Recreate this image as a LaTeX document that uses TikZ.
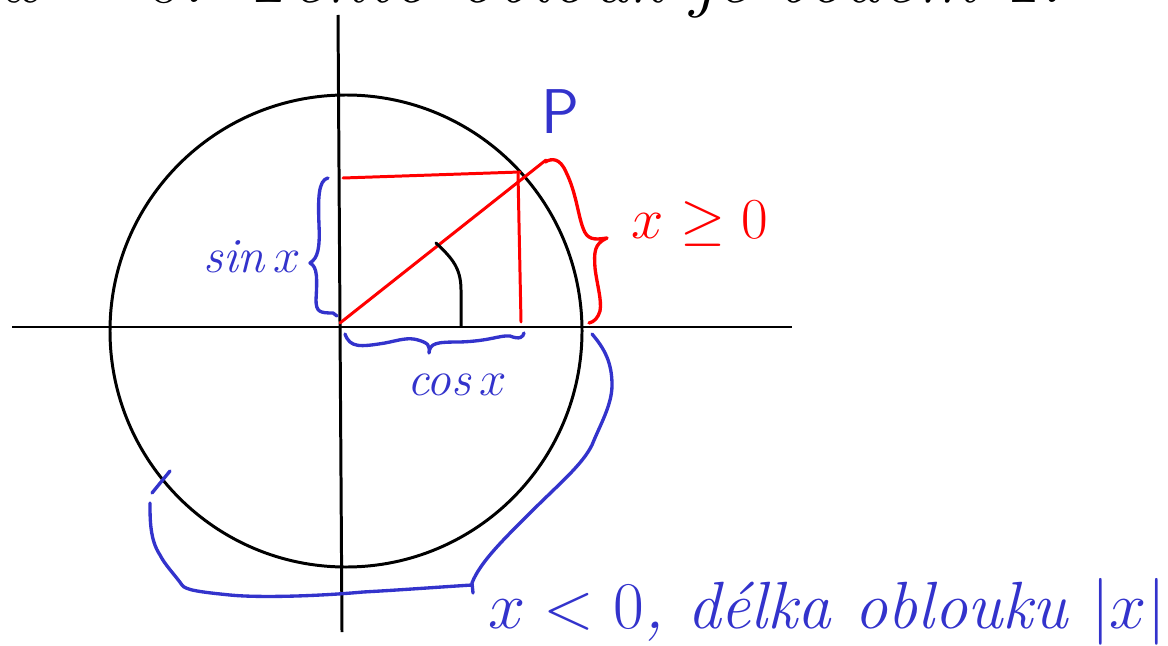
\RequirePackage{fix-cm}
\documentclass[tikz,border=0pt]{standalone}
\usepackage{amsmath}
\definecolor{penblue}{RGB}{51,51,204}
\definecolor{penred}{RGB}{255,0,0}
\tikzset{
  axis/.style={line width=1.7pt, black},
  redline/.style={line width=1.7pt, penred, line cap=round},
  bluebrace/.style={line width=1.9pt, penblue, line cap=round, line join=round},
  redbrace/.style={line width=1.9pt, penred, line cap=round, line join=round},
  bluetext/.style={text=penblue, inner sep=0pt},
}
\begin{document}
\begin{tikzpicture}[x=0.02cm,y=-0.02cm]
\useasboundingbox (0,0) rectangle (1168,645);
\clip (0,0) rectangle (1168,645);
\fill[white] (0,0) rectangle (1168,645);

% top (cut-off) text
\node[anchor=base west, inner sep=0pt, font=\fontsize{44}{44}\selectfont\itshape] (title) at (5,3) {$x=0$. Tento oblouk je bodem $1$.};

% axes and circle
\coordinate (O) at (341,327);
\coordinate (C) at (346,331);
\coordinate (xl) at (12,327);
\coordinate (xr) at (792,327);
\coordinate (yt) at (338,15);
\coordinate (yb) at (342,632);
\draw[axis] (xl) -- (xr);
\draw[axis] (yt) -- (yb);
\draw[axis] (C) circle [radius=236];

% red construction
\coordinate (P) at (520,172);
\coordinate (Pext) at (546,160);
\coordinate (S) at (343,178);
\coordinate (Cx) at (521,322);
\draw[redline] (340,323) -- (Pext);
\draw[redline] (S) -- (P);
\draw[redline] (518,174) -- (Cx);

% angle arc
\draw[line width=1.7pt, line cap=round] (436,243) .. controls (452,258) and (461,268) .. (461,290) -- (461,326);

% P label
\node[bluetext, font=\fontsize{36}{36}\selectfont\sffamily] (Plab) at (560,112) {P};

% red brace and x >= 0
\draw[redbrace] (545,162) .. controls (552,158) and (560,158) .. (566,172)
  .. controls (576,192) and (578,215) .. (583,228)
  .. controls (587,240) and (594,240) .. (607,238)
  .. controls (594,244) and (594,252) .. (595,268)
  .. controls (597,285) and (602,300) .. (600,311)
  .. controls (598,318) and (594,322) .. (589,323);
\node[text=penred, inner sep=0pt, font=\fontsize{33}{33}\selectfont] (xpos) at (700,224) {$x\geq 0$};

% sin x brace
\draw[bluebrace] (328,178) .. controls (318,180) and (318,200) .. (319,225)
  .. controls (320,248) and (318,258) .. (310,263)
  .. controls (318,267) and (317,280) .. (316,300)
  .. controls (316,312) and (320,313) .. (333,313) -- (337,316);
\node[bluetext, font=\fontsize{28}{28}\selectfont\itshape] (sinlab) at (252,257) {sin\,$x$};

% cos x brace
\draw[bluebrace] (345,334) .. controls (350,348) and (360,347) .. (385,343)
  .. controls (400,340) and (408,337) .. (418,340)
  .. controls (428,343) and (430,345) .. (429,353)
  .. controls (430,343) and (436,342) .. (460,342)
  .. controls (490,341) and (500,335) .. (510,336)
  .. controls (520,340) and (523,337) .. (524,333);
\node[bluetext, font=\fontsize{28}{28}\selectfont\itshape] (coslab) at (457,385) {cos\,$x$};

% big brace for negative x
\draw[bluebrace] (592,334) .. controls (604,348) and (612,362) .. (612,385)
  .. controls (612,405) and (600,425) .. (592,445)
  .. controls (582,465) and (560,483) .. (530,513)
  .. controls (505,538) and (480,562) .. (472,583)
  -- (473,593);
\draw[bluebrace] (472,585) .. controls (440,587) and (400,590) .. (363,592)
  .. controls (320,596) and (260,598) .. (230,595)
  .. controls (200,592) and (185,590) .. (182,585)
  .. controls (175,575) and (165,565) .. (160,555)
  .. controls (150,540) and (150,520) .. (150,503);
\draw[bluebrace] (152,493) -- (170,471);

\node[bluetext, anchor=base west, font=\fontsize{38}{38}\selectfont\itshape] (neglab) at (488,628) {$x<0$, délka oblouku $|x|$};
\end{tikzpicture}
\end{document}
